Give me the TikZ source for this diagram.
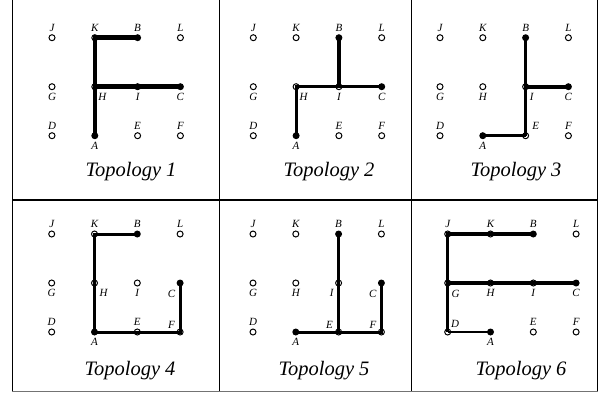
\documentclass[tikz,border=0pt]{standalone}
\usepackage{fontspec}
\setmainfont{Liberation Serif}
\begin{document}
\begin{tikzpicture}[x=1pt,y=-1pt,
  hole/.style={circle,draw,fill=white,line width=1pt,minimum size=6pt,inner sep=0pt},
  dot/.style={circle,fill=black,minimum size=7pt,inner sep=0pt},
  kindA/.style={dot}, kindB/.style={dot}, kindC/.style={dot},
  kindJ/.style={hole}, kindK/.style={hole}, kindL/.style={hole},
  kindG/.style={hole}, kindH/.style={hole}, kindI/.style={hole},
  kindD/.style={hole}, kindE/.style={hole}, kindF/.style={hole},
  lbl/.style={inner sep=0pt,font=\fontsize{11}{12}\selectfont\itshape},
  up/.style={yshift=10pt}, down/.style={yshift=-10pt},
  lpJ/.style={up}, lpK/.style={up}, lpB/.style={up}, lpL/.style={up},
  lpD/.style={up}, lpE/.style={up}, lpF/.style={up},
  lpG/.style={down}, lpH/.style={down}, lpI/.style={down},
  lpC/.style={down}, lpA/.style={down},
  title/.style={anchor=base,inner sep=0pt,font=\fontsize{20.5}{24}\selectfont\itshape},
  frame/.style={line width=1.2pt},
  edge/.style={line width=#1},
]
\useasboundingbox (0,0) rectangle (612,392);

% grid of twelve vertices: prefix, x of first column, y of first row
\newcommand\vgrid[3]{%
  \foreach \n/\c/\r in {J/0/0,K/1/0,B/2/0,L/3/0,G/0/1,H/1/1,I/2/1,C/3/1,D/0/2,A/1/2,E/2/2,F/3/2}{
    \node[kind\n] (#1\n) at ({#2+\c*42.8},{#3+\r*49}) {};
    \node[lbl,lp\n] (#1\n-t) at (#1\n) {\n};
  }%
}

% table rules
\draw[frame] (12.3,-2) -- (12.3,392);
\draw[frame] (597.5,-2) -- (597.5,392);
\draw[frame] (219.3,-2) -- (219.3,392);
\draw[frame] (411.8,-2) -- (411.8,392);
\draw[frame] (12.3,200) -- (597.5,200);
\draw[frame,black!55] (12.3,391.6) -- (597.5,391.6);

% Topology 1
\begin{scope}[lpH/.style={xshift=7.5pt,yshift=-10pt}]
  \vgrid{a}{52}{37.7}
\end{scope}
\draw[edge=4.6pt] (aB.center) -- (aK.center) -- (aA.center);
\draw[edge=4.6pt] (aH.center) -- (aC.center);
\node[title] (ta) at (131,176.5) {Topology 1};

% Topology 2
\begin{scope}[lpH/.style={xshift=7.5pt,yshift=-10pt}]
  \vgrid{b}{253.3}{37.7}
\end{scope}
\draw[edge=4pt] (bB.center) -- (bI.center);
\draw[edge=3.2pt] (bA.center) -- (bH.center) -- (bC.center);
\node[title] (tb) at (329,176.5) {Topology 2};

% Topology 3
\begin{scope}[lpI/.style={xshift=6pt,yshift=-10pt},
              lpE/.style={xshift=10pt,yshift=10pt}]
  \vgrid{c}{440}{37.7}
\end{scope}
\draw[edge=3.2pt] (cB.center) -- (cE.center);
\draw[edge=4.2pt] (cI.center) -- (cC.center);
\draw[edge=2.8pt] (cA.center) -- (cE.center);
\node[title] (tc) at (516,176.5) {Topology 3};

% Topology 4
\begin{scope}[lpH/.style={xshift=9pt,yshift=-10pt},
              lpC/.style={xshift=-8.5pt,yshift=-10.5pt},
              lpF/.style={xshift=-8.5pt,yshift=7pt}]
  \vgrid{d}{51.7}{234}
\end{scope}
\draw[edge=3pt] (dB.center) -- (dK.center) -- (dA.center) -- (dF.center) -- (dC.center);
\node[title] (td) at (130,375.5) {Topology 4};

% Topology 5
\begin{scope}[lpI/.style={xshift=-7pt,yshift=-10pt},
              lpE/.style={xshift=-9pt,yshift=7pt},
              lpC/.style={xshift=-8.5pt,yshift=-10.5pt},
              lpF/.style={xshift=-8.5pt,yshift=7pt}]
  \vgrid{e}{253}{234}
\end{scope}
\draw[edge=3pt] (eB.center) -- (eE.center);
\draw[edge=3pt] (eA.center) -- (eF.center) -- (eC.center);
\node[title] (te) at (324,375.5) {Topology 5};

% Topology 6
\begin{scope}[lpG/.style={xshift=8pt,yshift=-10.5pt},
              lpD/.style={xshift=7.5pt,yshift=8pt}]
  \vgrid{f}{447.7}{234}
\end{scope}
\draw[edge=3.2pt] (fB.center) -- (fJ.center) -- (fD.center);
\draw[edge=2.8pt] (fD.center) -- (fA.center);
\draw[edge=4.2pt] (fG.center) -- (fC.center);
\node[title] (tf) at (521,375.5) {Topology 6};
\end{tikzpicture}
\end{document}
